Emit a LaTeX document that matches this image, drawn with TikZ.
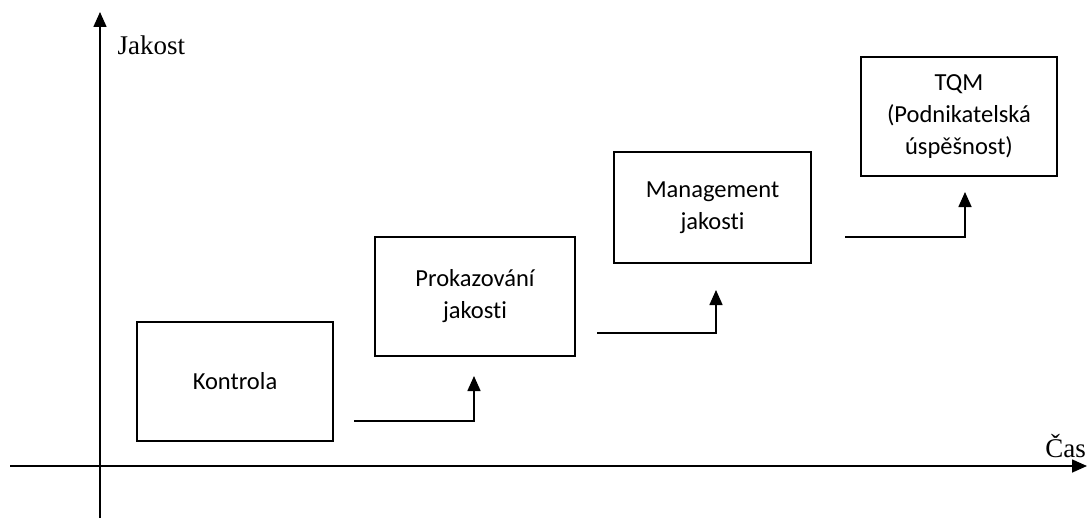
\documentclass[tikz,border=0pt]{standalone}
\usepackage{fontspec}
\setmainfont{Liberation Serif}
\newfontfamily\boxfont[Ligatures=NoCommon]{Carlito}
\usetikzlibrary{arrows.meta}
\tikzstyle{box}=[draw=black,line width=1.3pt,align=center,font=\boxfont\fontsize{24.5}{32}\selectfont]
\tikzstyle{axis}=[line width=1.6pt,-{Triangle[length=15pt,width=13pt]}]
\tikzstyle{step arrow}=[line width=1.6pt,-{Triangle[length=15pt,width=13pt]}]

\begin{document}
\begin{tikzpicture}[x=1pt,y=-1pt]
        \useasboundingbox (0, 0) rectangle (1088, 519);

        \node [style = box, minimum width = 196pt, minimum height = 119pt] (kontrola) at (235, 381.5) {Kontrola};
        \node [style = box, minimum width = 200pt, minimum height = 119pt] (prokaz) at (475, 296.5) {Prokazování\\jakosti};
        \node [style = box, minimum width = 197pt, minimum height = 111pt] (mgmt) at (712.5, 207.5) {Management\\jakosti};
        \node [style = box, minimum width = 196pt, minimum height = 119pt] (tqm) at (959, 116.5) {TQM\\(Podnikatelská\\úspěšnost)};

        \coordinate (ybot) at (100, 518);
        \coordinate (ytop) at (100, 12);
        \coordinate (xleft) at (10, 466);
        \coordinate (xright) at (1087, 466);

        \node [anchor = west, font = \fontsize{27}{30}\selectfont] (jakost) at (114, 45) {Jakost};
        \node [anchor = east, inner sep = 1pt, font = \fontsize{27}{30}\selectfont] (cas) at (1087, 446) {Čas};

        \coordinate (s1) at (354, 421);
        \coordinate (c1) at (474, 421);
        \coordinate (e1) at (474, 376);
        \coordinate (s2) at (597, 333);
        \coordinate (c2) at (716, 333);
        \coordinate (e2) at (716, 290);
        \coordinate (s3) at (845, 237);
        \coordinate (c3) at (965, 237);
        \coordinate (e3) at (965, 192);

        \draw [style = axis] (ybot) to (ytop);
        \draw [style = axis] (xleft) to (xright);

        \draw [style = step arrow] (s1) -- (c1) -- (e1);
        \draw [style = step arrow] (s2) -- (c2) -- (e2);
        \draw [style = step arrow] (s3) -- (c3) -- (e3);
\end{tikzpicture}
\end{document}
